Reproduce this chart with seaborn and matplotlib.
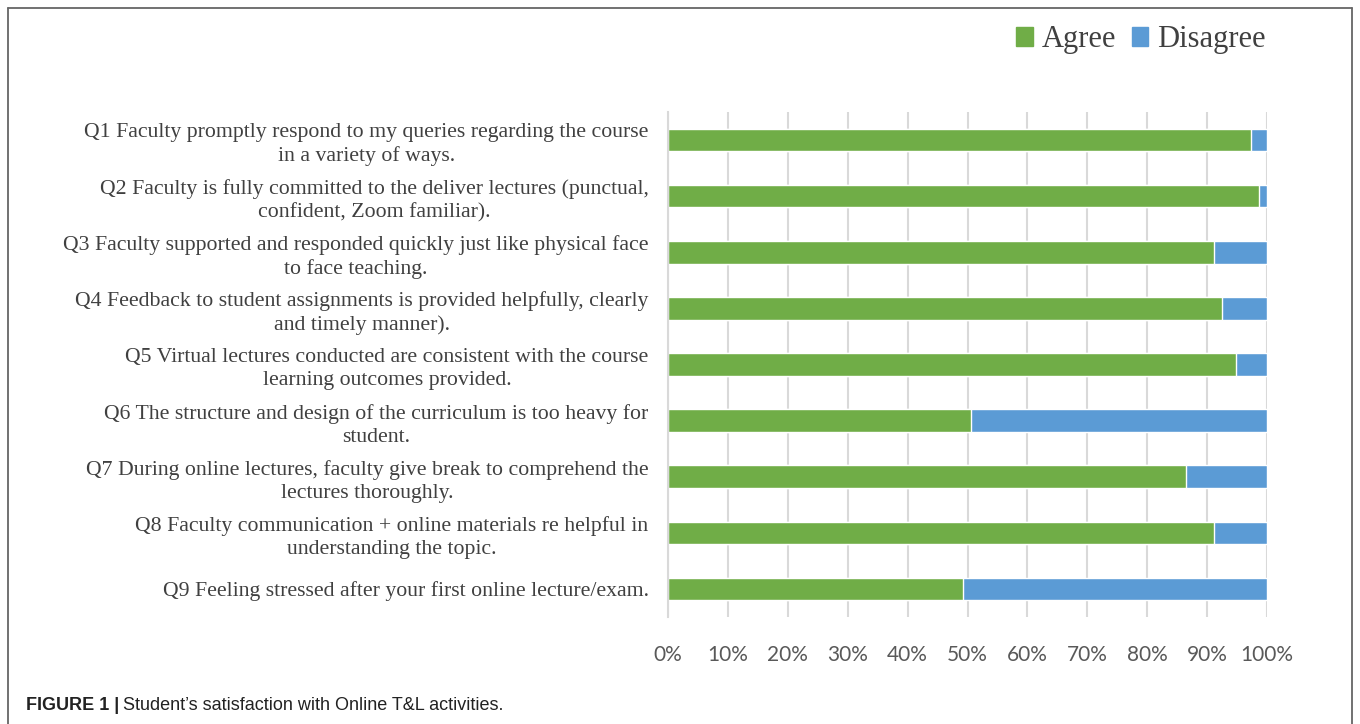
import numpy as np
import pandas as pd
import matplotlib
matplotlib.use('Agg')
import matplotlib.pyplot as plt
from matplotlib.lines import Line2D
from matplotlib.patches import Patch
import seaborn as sns

# Soru etiketleri (resimdeki satır kırılımlarıyla)
questions = [
    'Q1 Faculty promptly respond to my queries regarding the course\nin a variety of ways.',
    'Q2 Faculty is fully committed to the deliver lectures (punctual,\nconfident, Zoom familiar).',
    'Q3 Faculty supported and responded quickly just like physical face\nto face teaching.',
    'Q4 Feedback to student assignments is provided helpfully, clearly\nand timely manner).',
    'Q5 Virtual lectures conducted are consistent with the course\nlearning outcomes provided.',
    'Q6 The structure and design of the curriculum is too heavy for\nstudent.',
    'Q7 During online lectures, faculty give break to comprehend the\nlectures thoroughly.',
    'Q8 Faculty communication + online materials re helpful in\nunderstanding the topic.',
    'Q9 Feeling stressed after your first online lecture/exam.',
]
agree = [97.4, 98.7, 91.2, 92.5, 94.9, 50.6, 86.4, 91.2, 49.3]
disagree = [2.6, 1.3, 8.8, 7.5, 5.1, 49.4, 13.6, 8.8, 50.7]
xticks = [0, 10, 20, 30, 40, 50, 60, 70, 80, 90, 100]

green = '#70AD47'
blue = '#5B9BD5'

df = pd.DataFrame({'soru': questions, 'agree': agree, 'disagree': disagree})
df['toplam'] = df['agree'] + df['disagree']

sns.set_style('white')
plt.rcParams['font.family'] = ['Liberation Serif', 'DejaVu Serif']

fig = plt.figure(figsize=(13.6, 7.24), dpi=100)
ax = fig.add_axes([668 / 1360, 1 - 617 / 724, 599 / 1360, 505 / 724])

# yığılmış çubuk: önce toplam (mavi), sonra agree (yeşil)
sns.barplot(data=df, x='toplam', y='soru', color=blue, width=0.4, orient='h',
            saturation=1, ax=ax, zorder=3)
sns.barplot(data=df, x='agree', y='soru', color=green, width=0.4, orient='h',
            saturation=1, ax=ax, zorder=4)

ax.set_xlim(0, 100)
ax.set_xticks(xticks)
ax.set_xticklabels([f'{t}%' for t in xticks], family='Lato', fontsize=15, color='#595959')
ax.tick_params(axis='x', length=0, pad=20)
ax.tick_params(axis='y', length=0, pad=14)
for lbl in ax.get_yticklabels():
    lbl.set_fontsize(15.7)
    lbl.set_color('#404040')
    lbl.set_multialignment('center')
    lbl.set_linespacing(1.3)
ax.set_xlabel('')
ax.set_ylabel('')
ax.grid(axis='x', color='#D9D9D9', linewidth=1.5, zorder=0)
for s in ['top', 'right', 'bottom']:
    ax.spines[s].set_visible(False)
ax.spines['left'].set_color('#D9D9D9')
ax.spines['left'].set_linewidth(1.5)
ax.spines['left'].set_zorder(5)

# lejant
handles = [Patch(color=green, label='Agree'), Patch(color=blue, label='Disagree')]
fig.legend(handles=handles, loc='center', bbox_to_anchor=(1141 / 1360, 1 - 40 / 724), ncol=2,
           frameon=False, fontsize=22, handlelength=0.55, handleheight=0.55,
           handletextpad=0.3, columnspacing=0.5, labelcolor='#404040')

# çerçeve (alt kenarı açık)
fx0, fx1, fy = 8 / 1360, 1352 / 1360, 1 - 8 / 724
for xs, ys in [([fx0, fx0], [0, fy]), ([fx0, fx1], [fy, fy]), ([fx1, fx1], [fy, 0])]:
    fig.add_artist(Line2D(xs, ys, color='#666666', linewidth=1.3, transform=fig.transFigure))

# alt yazı
t1 = fig.text(26 / 1360, 1 - 706 / 724, 'FIGURE 1 |', family='Liberation Sans', fontweight='bold',
              fontsize=13, color='#222222', va='center')
fig.canvas.draw()
bb = t1.get_window_extent()
fig.text(bb.x1 / 1360 + 0.003, 1 - 706 / 724, 'Student\u2019s satisfaction with Online T&L activities.',
         family='Liberation Sans', fontsize=13, color='#222222', va='center')

fig.savefig('out.png', dpi=100)
